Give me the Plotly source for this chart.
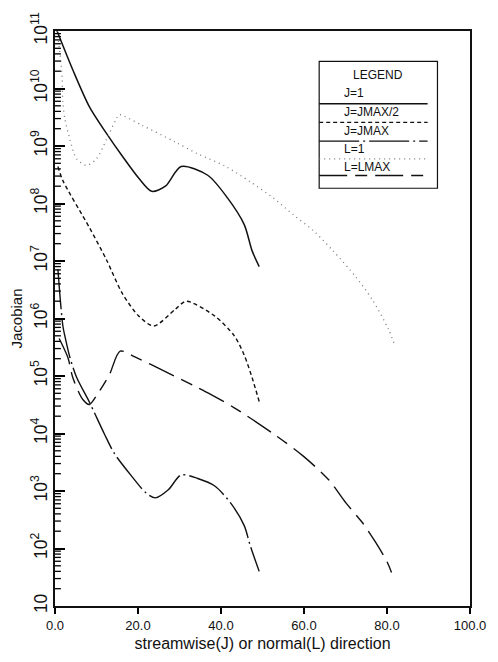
import plotly.graph_objects as go

# Jacobian distributions along grid lines
x_j1 = [0.5, 4.3, 8.3, 12.4, 16.2, 20.2, 23.3, 26.6, 30.4, 36.8, 41.6, 45.6, 47.5, 49.2]
y_j1 = [1.0e11, 2.1e10, 4.8e9, 1.66e9, 6.7e8, 2.75e8, 1.63e8, 2.0e8, 4.4e8, 3.1e8, 1.24e8, 4.3e7, 1.5e7, 8.0e6]

x_jhalf = [0.7, 1.9, 8.3, 12.4, 16.2, 20.2, 23.8, 29.0, 31.6, 38.5, 43.2, 45.6, 47.5, 49.2]
y_jhalf = [4.4e8, 2.5e8, 3.8e7, 1.05e7, 2.75e6, 1.1e6, 7.4e5, 1.45e6, 2.0e6, 1.1e6, 5.0e5, 2.3e5, 9.3e4, 3.6e4]

x_jmax = [0.7, 1.9, 2.6, 3.6, 5.2, 8.3, 11.9, 14.3, 18.5, 21.9, 24.2, 27.3, 30.4, 34.4, 38.5, 42.3, 45.6, 47.0, 49.2]
y_jmax = [7.2e6, 7.4e5, 4.2e5, 2.1e5, 9.5e4, 3.5e4, 9.8e3, 4.5e3, 1.8e3, 9.3e2, 7.6e2, 1.05e3, 1.9e3, 1.65e3, 1.22e3, 6.2e2, 2.5e2, 1.15e2, 40]

x_l1 = [0.5, 1.2, 1.7, 1.9, 2.4, 3.6, 5.2, 7.6, 10.0, 12.4, 14.7, 15.4, 20.9, 29.0, 34.4, 40.9, 47.0, 52.7, 57.5, 62.2, 67.0, 72.4, 76.5, 80.3, 81.9]
y_l1 = [1.0e11, 4.1e10, 1.6e10, 5.7e9, 2.9e9, 1.3e9, 6.0e8, 4.6e8, 6.0e8, 1.3e9, 2.9e9, 3.5e9, 2.3e9, 1.17e9, 7.3e8, 4.5e8, 2.4e8, 1.23e8, 6.3e7, 3.4e7, 1.5e7, 5.4e6, 2.1e6, 6.6e5, 3.4e5]

x_lmax = [1.0, 3.1, 4.3, 6.7, 8.3, 10.2, 13.1, 15.7, 19.5, 24.9, 37.5, 43.2, 52.7, 59.9, 66.0, 70.1, 74.1, 77.2, 80.0, 81.5]
y_lmax = [4.5e5, 2.1e5, 9.3e4, 3.9e4, 3.2e4, 4.8e4, 1.05e5, 2.7e5, 2.1e5, 1.37e5, 4.8e4, 2.8e4, 9.8e3, 4.0e3, 1.55e3, 6.2e2, 2.8e2, 1.3e2, 59, 32]

series_names = ["J=1", "J=JMAX/2", "J=JMAX", "L=1", "L=LMAX"]
series_x = [x_j1, x_jhalf, x_jmax, x_l1, x_lmax]
series_y = [y_j1, y_jhalf, y_jmax, y_l1, y_lmax]
dashes = ["solid", "4px,3px", "40px,4px,2px,4px", "1px,4px", "28px,8px,12px,8px"]
colors = ["#111", "#111", "#111", "#777", "#111"]
widths = [1.5, 1.4, 1.4, 1.3, 1.4]

x_ticks = [0, 20, 40, 60, 80, 100]
x_ticktext = ["0.0", "20.0", "40.0", "60.0", "80.0", "100.0"]

# Minor tick positions at 2..9 within each decade
minor_vals = [k * 10 ** e for e in range(1, 11) for k in range(2, 10)]

font_family = "Liberation Sans, DejaVu Sans, sans-serif"

fig = go.Figure()
for name, xs, ys, d, c, w in zip(series_names, series_x, series_y, dashes, colors, widths):
    fig.add_trace(go.Scatter(
        x=xs, y=ys, mode="lines", name=name,
        line=dict(color=c, width=w, dash=d, shape="spline", smoothing=0.8),
        showlegend=False,
    ))

L, R, T, B = 55, 476, 30, 615
def px(xp):
    return (xp - L) / (R - L)
def py(yp):
    return (B - yp) / (B - T)

shapes = []
# Short inside ticks along the left axis for the log sub-divisions
for v in minor_vals:
    shapes.append(dict(type="line", xref="paper", yref="y", x0=0, x1=6 / (R - L),
                       y0=v, y1=v, line=dict(color="#000", width=1.3), layer="above"))

# Hand-drawn legend box: label above each line sample
shapes.append(dict(type="rect", xref="paper", yref="paper",
                   x0=px(323), x1=px(443), y0=py(190), y1=py(61),
                   line=dict(color="#111", width=1.2), fillcolor="white", layer="above"))
annotations = [dict(text="LEGEND", xref="paper", yref="paper", x=px(383), y=py(75),
                    showarrow=False, xanchor="center", yanchor="middle",
                    font=dict(size=12, family=font_family, color="#111"))]
label_y = [93, 112, 132, 150, 168]
line_y = [104, 123, 142, 160, 177]
for name, d, c, ly, sy in zip(series_names, dashes, colors, label_y, line_y):
    annotations.append(dict(text=name, xref="paper", yref="paper", x=px(346), y=py(ly),
                            showarrow=False, xanchor="left", yanchor="middle",
                            font=dict(size=12, family=font_family, color="#111")))
    shapes.append(dict(type="line", xref="paper", yref="paper",
                       x0=px(323), x1=px(433), y0=py(sy), y1=py(sy),
                       line=dict(color=c, width=1.3, dash=d), layer="above"))

fig.update_layout(
    width=498, height=662,
    margin=dict(l=L, r=498 - R, t=T, b=662 - B),
    paper_bgcolor="white", plot_bgcolor="white",
    font=dict(family=font_family, color="#111"),
    shapes=shapes, annotations=annotations,
)
fig.update_xaxes(
    range=[0, 100], tickvals=x_ticks, ticktext=x_ticktext,
    ticks="outside", ticklen=6, tickwidth=2, tickcolor="#000",
    showline=True, linewidth=2, linecolor="#111", mirror=True,
    showgrid=False, zeroline=False,
    tickfont=dict(size=13, family=font_family),
    title=dict(text="streamwise(J) or normal(L) direction", standoff=6,
               font=dict(size=16, family=font_family)),
)
fig.update_yaxes(
    type="log", range=[1, 11], dtick=1, exponentformat="power",
    ticks="inside", ticklen=10, tickwidth=2, tickcolor="#000",
    showline=True, linewidth=2, linecolor="#111", mirror=True,
    showgrid=False, zeroline=False, tickangle=-90,
    tickfont=dict(size=14, family=font_family),
    title=dict(text="Jacobian", standoff=2, font=dict(size=15, family=font_family)),
)

fig.write_html("out.html")
